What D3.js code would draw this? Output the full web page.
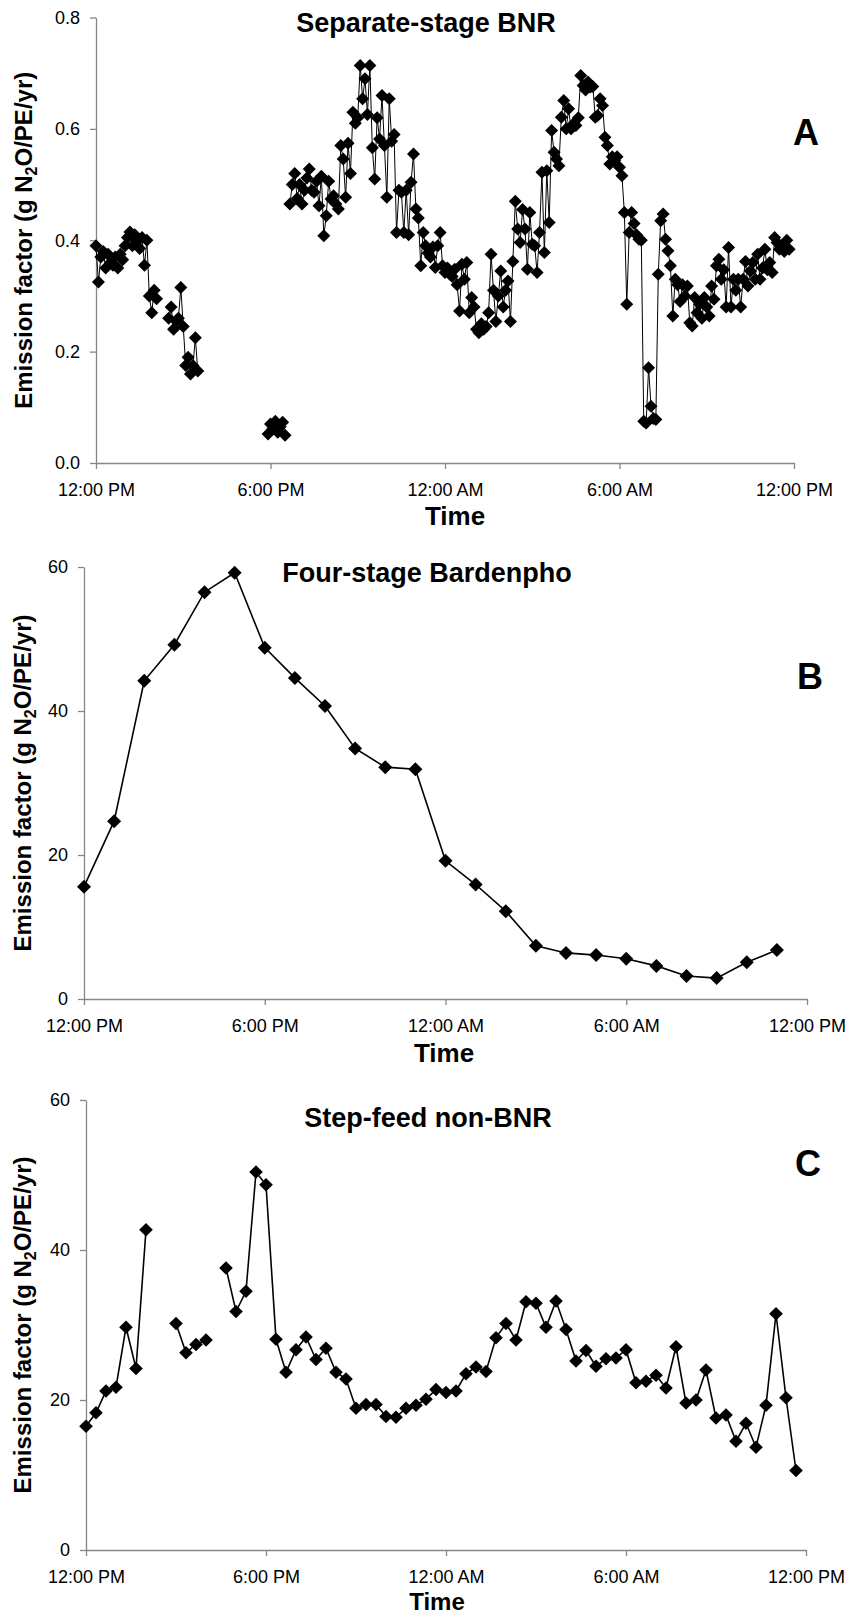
<!DOCTYPE html>
<html>
<head>
<meta charset="utf-8">
<script src="https://cdn.jsdelivr.net/npm/d3@7"></script>
<style>
body { margin: 0; background: #fff; }
svg { display: block; font-family: Arial, "Liberation Sans", sans-serif; }
.axis path, .axis line { stroke: #868686; stroke-width: 1.3; }
.axis text { fill: #000; font-size: 18px; font-family: Arial, "Liberation Sans", sans-serif; }
</style>
</head>
<body>
<svg id="chart" width="850" height="1617"></svg>
<script>
// --- données ---
// temps en minutes depuis 12:00 PM
var timeTicks = [0, 360, 720, 1080, 1440];
var timeLabels = ["12:00 PM", "6:00 PM", "12:00 AM", "6:00 AM", "12:00 PM"];

// A : Separate-stage BNR (pas de 5 min, par segments)
var aTicks = [0, 0.2, 0.4, 0.6, 0.8];
var aStep = 5;
var aSeg1Start = 0;
var aSeg1 = [0.39,0.325,0.37,0.38,0.35,0.375,0.36,0.355,0.37,0.35,0.375,0.365,0.39,0.405,0.415,0.39,0.41,0.40,0.385,0.405,0.355,0.40,0.30,0.27,0.31,0.295];
var aSeg2Start = 150;
var aSeg2 = [0.26,0.28,0.24,0.255,0.26,0.315,0.245,0.175,0.19,0.16,0.175,0.225,0.165];
var aSeg3Start = 355;
var aSeg3 = [0.052,0.07,0.062,0.075,0.055,0.065,0.073,0.05];
var aSeg4Start = 400;
var aSeg4 = [
  0.465,0.50,0.52,0.475,0.50,0.465,0.49,0.512,0.528,0.49,
  0.486,0.506,0.462,0.515,0.408,0.444,0.506,0.474,0.48,0.465,
  0.456,0.57,0.546,0.477,0.574,0.52,0.63,0.61,0.62,0.714,
  0.654,0.69,0.626,0.714,0.566,0.51,0.62,0.582,0.66,0.57,
  0.477,0.654,0.578,0.59,0.414,0.49,0.486,0.414,0.49,0.41,
  0.504,0.555,0.456,0.44,0.354,0.414,0.39,0.377,0.37,0.388,
  0.351,0.39,0.414,0.354,0.342,0.35,0.339,0.335,0.348,0.32,
  0.273,0.357,0.33,0.36,0.27,0.297,0.28,0.24,
  0.234,0.25,0.24,0.245,0.27,0.375,0.31,0.254,0.30,0.345,
  0.28,0.31,0.327,0.254,0.362,0.47,0.42,0.396,0.455,0.42,
  0.348,0.45,0.393,0.39,0.342,0.414,0.522,0.378,0.525,0.432,
  0.597,0.558,0.546,0.534,0.621,0.651,0.60,0.636,0.60,0.609,
  0.606,0.62,0.696,0.678,0.67,0.684,0.675,0.676,0.621,0.624,
  0.654,0.642,0.585,0.57,0.537,0.55,0.543,0.55,0.531,0.516,
  0.45,0.285,0.414,0.45,0.43,0.41,0.402,0.40,0.075,0.072,
  0.171,0.102,0.08,0.078,0.339,0.435,0.447,0.402,0.381,0.354,
  0.264,0.33,0.32,0.29,0.32,0.30,0.318,0.252,0.246,0.297,
  0.27,0.285,0.26,0.297,0.28,0.264,0.318,0.294,0.354,0.366,
  0.33,0.347,0.28,0.387,0.28,0.33,0.31,0.33,0.28,0.33,
  0.362,0.318,0.345,0.36,0.33,0.375,0.33,0.35,0.384,0.347,
  0.36,0.342,0.405,0.396,0.384,0.39,0.38,0.40,0.384
];

// B : Four-stage Bardenpho (horaire)
var bTicks = [0, 20, 40, 60];
var bHours = [0,1,2,3,4,5,6,7,8,9,10,11,12,13,14,15,16,17,18,19,20,21,22,23];
var bValues = [15.6,24.7,44.2,49.2,56.5,59.2,48.8,44.6,40.7,34.8,32.2,31.9,19.2,15.9,12.2,7.4,6.4,6.1,5.6,4.6,3.2,2.9,5.1,6.8];

// C : Step-feed non-BNR (pas de 20 min, null = pas de mesure)
var cTicks = [0, 20, 40, 60];
var cStep = 20;
var cValues = [
  16.5,18.3,21.2,21.7,29.7,24.2,42.7,null,null,30.2,
  26.3,27.4,28.0,null,37.6,31.8,34.5,50.4,48.7,28.1,
  23.7,26.7,28.4,25.4,26.9,23.7,22.8,18.9,19.4,19.4,
  17.8,17.7,18.9,19.3,20.1,21.4,21.0,21.2,23.5,24.4,
  23.8,28.3,30.2,28.0,33.1,32.9,29.7,33.2,29.4,25.2,
  26.6,24.5,25.5,25.6,26.7,22.3,22.5,23.3,21.6,27.1,
  19.6,20.0,24.0,17.6,18.0,14.5,16.9,13.7,19.3,31.5,
  20.3,10.6
];

// construction des séries
function segPoints(start, vals, step) {
    return vals.map(function(v, i) { return { t: start + i * step, v: v }; });
}
var aSeries = [
    segPoints(aSeg1Start, aSeg1, aStep),
    segPoints(aSeg2Start, aSeg2, aStep),
    segPoints(aSeg3Start, aSeg3, aStep),
    segPoints(aSeg4Start, aSeg4, aStep)
];
var bSeries = [bHours.map(function(h, i) { return { t: h * 60, v: bValues[i] }; })];
var cSeries = [segPoints(0, cValues, cStep)];

var svg = d3.select("#chart");

function drawPanel(p) {
    var x = d3.scaleLinear().domain([0, 1440]).range([p.left, p.right]);
    var y = d3.scaleLinear().domain(p.yDomain).range([p.bottom, p.top]);
    var g = svg.append("g");

    // axe x
    g.append("g")
        .attr("class", "axis")
        .attr("transform", "translate(0," + p.bottom + ")")
        .call(d3.axisBottom(x).tickValues(timeTicks).tickSize(6).tickSizeOuter(0).tickPadding(14)
            .tickFormat(function(d, i) { return timeLabels[i]; }));

    // axe y
    g.append("g")
        .attr("class", "axis")
        .attr("transform", "translate(" + p.left + ",0)")
        .call(d3.axisLeft(y).tickValues(p.yTicks).tickSize(6).tickSizeOuter(0).tickPadding(10)
            .tickFormat(p.yFormat));

    // courbes
    var line = d3.line()
        .defined(function(d) { return d.v !== null; })
        .x(function(d) { return x(d.t); })
        .y(function(d) { return y(d.v); });

    p.series.forEach(function(s) {
        g.append("path")
            .datum(s)
            .attr("fill", "none")
            .attr("stroke", "#000")
            .attr("stroke-width", p.lineWidth)
            .attr("d", line);
    });

    var diamond = d3.symbol().type(d3.symbolSquare).size(2 * p.r * p.r);
    p.series.forEach(function(s) {
        g.append("g").selectAll("path")
            .data(s.filter(function(d) { return d.v !== null; }))
            .enter().append("path")
            .attr("d", diamond)
            .attr("fill", "#000")
            .attr("transform", function(d) {
                return "translate(" + x(d.t) + "," + y(d.v) + ") rotate(45)";
            });
    });

    // titres
    g.append("text")
        .attr("x", p.titleX).attr("y", p.titleY)
        .attr("text-anchor", "middle")
        .style("font", "bold 27px Arial, 'Liberation Sans', sans-serif")
        .text(p.title);

    g.append("text")
        .attr("x", p.letterX).attr("y", p.letterY)
        .attr("text-anchor", "middle")
        .style("font", "bold 36px Arial, 'Liberation Sans', sans-serif")
        .text(p.letter);

    g.append("text")
        .attr("x", p.timeX).attr("y", p.timeY)
        .attr("text-anchor", "middle")
        .style("font", "bold " + p.timeSize + "px Arial, 'Liberation Sans', sans-serif")
        .text("Time");

    var yl = g.append("text")
        .attr("transform", "translate(" + p.ylabelX + "," + ((p.top + p.bottom) / 2) + ") rotate(-90)")
        .attr("text-anchor", "middle")
        .style("font", "bold 24px Arial, 'Liberation Sans', sans-serif");
    yl.append("tspan").text("Emission factor (g N");
    yl.append("tspan").attr("dy", 5).style("font-size", "16px").text("2");
    yl.append("tspan").attr("dy", -5).text("O/PE/yr)");
}

drawPanel({
    left: 96, right: 794, top: 17.5, bottom: 463,
    yDomain: [0, 0.8], yTicks: aTicks, yFormat: d3.format(".1f"),
    series: aSeries, r: 6.5, lineWidth: 1,
    title: "Separate-stage BNR", titleX: 426, titleY: 32,
    letter: "A", letterX: 806, letterY: 145,
    timeX: 455, timeY: 525, timeSize: 26, ylabelX: 32
});

drawPanel({
    left: 84, right: 807, top: 567, bottom: 999,
    yDomain: [0, 60], yTicks: bTicks, yFormat: d3.format("d"),
    series: bSeries, r: 7, lineWidth: 1.6,
    title: "Four-stage Bardenpho", titleX: 427, titleY: 582,
    letter: "B", letterX: 810, letterY: 689,
    timeX: 444, timeY: 1062, timeSize: 26, ylabelX: 31
});

drawPanel({
    left: 86, right: 806, top: 1100, bottom: 1550,
    yDomain: [0, 60], yTicks: cTicks, yFormat: d3.format("d"),
    series: cSeries, r: 6.8, lineWidth: 1.6,
    title: "Step-feed non-BNR", titleX: 428, titleY: 1127,
    letter: "C", letterX: 808, letterY: 1176,
    timeX: 437, timeY: 1610, timeSize: 24, ylabelX: 31
});
</script>
</body>
</html>
